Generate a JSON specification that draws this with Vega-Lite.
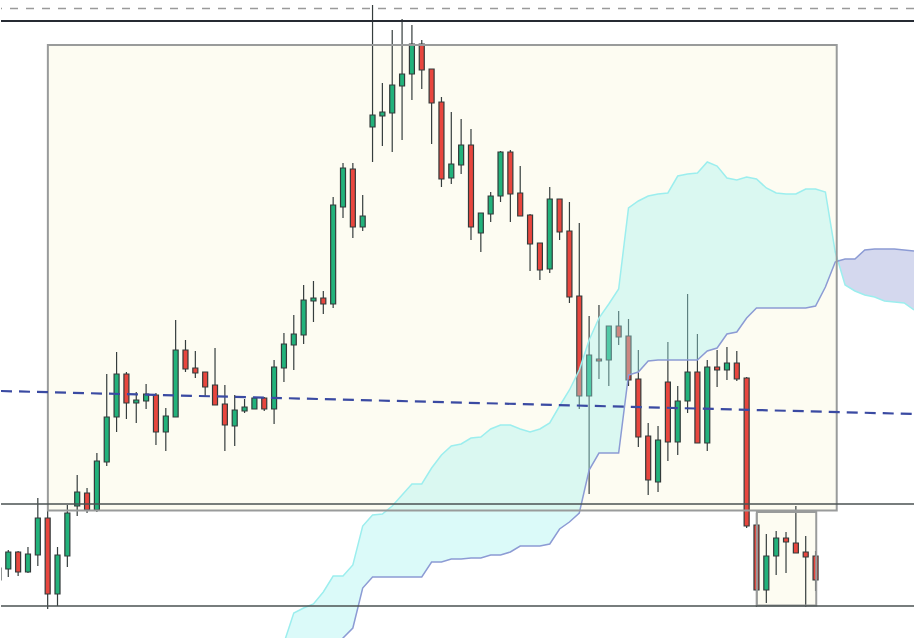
{
  "$schema": "https://vega.github.io/schema/vega-lite/v6.json",
  "width": 915,
  "height": 638,
  "padding": 0,
  "autosize": {"type": "fit", "contains": "padding"},
  "background": "#ffffff",
  "config": {"view": {"stroke": null}, "scale": {"continuousPadding": 0}},
  "datasets": {
    "candles": [
      {"i": -1, "o": 1420, "h": 1434, "l": 1417, "c": 1432},
      {"i": 0, "o": 1431, "h": 1450, "l": 1423, "c": 1448},
      {"i": 1, "o": 1448, "h": 1449, "l": 1424, "c": 1428},
      {"i": 2, "o": 1428, "h": 1453, "l": 1427, "c": 1446},
      {"i": 3, "o": 1445, "h": 1502, "l": 1434, "c": 1482},
      {"i": 4, "o": 1482, "h": 1490, "l": 1391, "c": 1406},
      {"i": 5, "o": 1406, "h": 1453, "l": 1394, "c": 1445},
      {"i": 6, "o": 1444, "h": 1495, "l": 1433, "c": 1487},
      {"i": 7, "o": 1494, "h": 1525, "l": 1484, "c": 1508},
      {"i": 8, "o": 1507, "h": 1512, "l": 1487, "c": 1490},
      {"i": 9, "o": 1490, "h": 1547, "l": 1488, "c": 1539},
      {"i": 10, "o": 1538, "h": 1626, "l": 1534, "c": 1583},
      {"i": 11, "o": 1583, "h": 1648, "l": 1568, "c": 1626},
      {"i": 12, "o": 1626, "h": 1628, "l": 1581, "c": 1597},
      {"i": 13, "o": 1597, "h": 1608, "l": 1577, "c": 1600},
      {"i": 14, "o": 1599, "h": 1616, "l": 1591, "c": 1606},
      {"i": 15, "o": 1605, "h": 1607, "l": 1555, "c": 1568},
      {"i": 16, "o": 1568, "h": 1592, "l": 1549, "c": 1584},
      {"i": 17, "o": 1583, "h": 1680, "l": 1583, "c": 1650},
      {"i": 18, "o": 1650, "h": 1660, "l": 1628, "c": 1631},
      {"i": 19, "o": 1632, "h": 1649, "l": 1622, "c": 1627},
      {"i": 20, "o": 1628, "h": 1628, "l": 1604, "c": 1613},
      {"i": 21, "o": 1615, "h": 1652, "l": 1595, "c": 1595},
      {"i": 22, "o": 1596, "h": 1615, "l": 1549, "c": 1575},
      {"i": 23, "o": 1574, "h": 1605, "l": 1554, "c": 1590},
      {"i": 24, "o": 1589, "h": 1601, "l": 1587, "c": 1593},
      {"i": 25, "o": 1591, "h": 1603, "l": 1591, "c": 1602},
      {"i": 26, "o": 1602, "h": 1603, "l": 1589, "c": 1591},
      {"i": 27, "o": 1591, "h": 1640, "l": 1576, "c": 1633},
      {"i": 28, "o": 1632, "h": 1667, "l": 1618, "c": 1656},
      {"i": 29, "o": 1655, "h": 1685, "l": 1630, "c": 1666},
      {"i": 30, "o": 1665, "h": 1715, "l": 1656, "c": 1700},
      {"i": 31, "o": 1699, "h": 1719, "l": 1678, "c": 1702},
      {"i": 32, "o": 1702, "h": 1709, "l": 1686, "c": 1696},
      {"i": 33, "o": 1696, "h": 1803, "l": 1692, "c": 1795},
      {"i": 34, "o": 1793, "h": 1837, "l": 1782, "c": 1832},
      {"i": 35, "o": 1831, "h": 1837, "l": 1762, "c": 1773},
      {"i": 36, "o": 1773, "h": 1805, "l": 1769, "c": 1784},
      {"i": 37, "o": 1873, "h": 1995, "l": 1838, "c": 1885},
      {"i": 38, "o": 1884, "h": 1917, "l": 1854, "c": 1888},
      {"i": 39, "o": 1887, "h": 1970, "l": 1848, "c": 1915},
      {"i": 40, "o": 1914, "h": 1981, "l": 1860, "c": 1926},
      {"i": 41, "o": 1926, "h": 1975, "l": 1900, "c": 1956},
      {"i": 42, "o": 1956, "h": 1960, "l": 1911, "c": 1930},
      {"i": 43, "o": 1931, "h": 1931, "l": 1856, "c": 1897},
      {"i": 44, "o": 1898, "h": 1903, "l": 1813, "c": 1821},
      {"i": 45, "o": 1822, "h": 1888, "l": 1816, "c": 1836},
      {"i": 46, "o": 1835, "h": 1881, "l": 1826, "c": 1855},
      {"i": 47, "o": 1855, "h": 1871, "l": 1760, "c": 1773},
      {"i": 48, "o": 1767, "h": 1787, "l": 1748, "c": 1787},
      {"i": 49, "o": 1786, "h": 1808, "l": 1778, "c": 1804},
      {"i": 50, "o": 1804, "h": 1849, "l": 1798, "c": 1848},
      {"i": 51, "o": 1848, "h": 1850, "l": 1778, "c": 1806},
      {"i": 52, "o": 1807, "h": 1834, "l": 1784, "c": 1784},
      {"i": 53, "o": 1785, "h": 1786, "l": 1729, "c": 1756},
      {"i": 54, "o": 1757, "h": 1757, "l": 1720, "c": 1730},
      {"i": 55, "o": 1731, "h": 1813, "l": 1727, "c": 1801},
      {"i": 56, "o": 1801, "h": 1801, "l": 1760, "c": 1768},
      {"i": 57, "o": 1769, "h": 1798, "l": 1697, "c": 1703},
      {"i": 58, "o": 1704, "h": 1777, "l": 1591, "c": 1604},
      {"i": 59, "o": 1604, "h": 1684, "l": 1506, "c": 1645},
      {"i": 60, "o": 1641, "h": 1695, "l": 1621, "c": 1639},
      {"i": 61, "o": 1640, "h": 1674, "l": 1614, "c": 1674},
      {"i": 62, "o": 1674, "h": 1689, "l": 1655, "c": 1663},
      {"i": 63, "o": 1664, "h": 1681, "l": 1614, "c": 1620},
      {"i": 64, "o": 1621, "h": 1650, "l": 1553, "c": 1563},
      {"i": 65, "o": 1564, "h": 1577, "l": 1505, "c": 1520},
      {"i": 66, "o": 1518, "h": 1574, "l": 1508, "c": 1560},
      {"i": 67, "o": 1618, "h": 1658, "l": 1539, "c": 1558},
      {"i": 68, "o": 1558, "h": 1614, "l": 1545, "c": 1599},
      {"i": 69, "o": 1599, "h": 1706, "l": 1587, "c": 1628},
      {"i": 70, "o": 1628, "h": 1666, "l": 1557, "c": 1557},
      {"i": 71, "o": 1557, "h": 1640, "l": 1549, "c": 1633},
      {"i": 72, "o": 1633, "h": 1650, "l": 1613, "c": 1630},
      {"i": 73, "o": 1630, "h": 1653, "l": 1620, "c": 1637},
      {"i": 74, "o": 1637, "h": 1649, "l": 1619, "c": 1621},
      {"i": 75, "o": 1622, "h": 1623, "l": 1472, "c": 1474},
      {"i": 76, "o": 1475, "h": 1487, "l": 1393, "c": 1410},
      {"i": 77, "o": 1410, "h": 1466, "l": 1397, "c": 1444},
      {"i": 78, "o": 1444, "h": 1469, "l": 1425, "c": 1462},
      {"i": 79, "o": 1462, "h": 1468, "l": 1427, "c": 1458},
      {"i": 80, "o": 1457, "h": 1494, "l": 1447, "c": 1447},
      {"i": 81, "o": 1448, "h": 1464, "l": 1393, "c": 1443},
      {"i": 82, "o": 1444, "h": 1449, "l": 1409, "c": 1420}
    ],
    "cloud": [
      {"i": 27, "a": 1325, "b": 1280, "seg": "bull"},
      {"i": 28, "a": 1357, "b": 1290, "seg": "bull"},
      {"i": 29, "a": 1387, "b": 1300, "seg": "bull"},
      {"i": 30, "a": 1392, "b": 1310, "seg": "bull"},
      {"i": 31, "a": 1396, "b": 1325, "seg": "bull"},
      {"i": 32, "a": 1408, "b": 1337, "seg": "bull"},
      {"i": 33, "a": 1424, "b": 1350, "seg": "bull"},
      {"i": 34, "a": 1424, "b": 1362, "seg": "bull"},
      {"i": 35, "a": 1435, "b": 1372, "seg": "bull"},
      {"i": 36, "a": 1474, "b": 1412, "seg": "bull"},
      {"i": 37, "a": 1485, "b": 1423, "seg": "bull"},
      {"i": 38, "a": 1486, "b": 1423, "seg": "bull"},
      {"i": 39, "a": 1494, "b": 1423, "seg": "bull"},
      {"i": 40, "a": 1505, "b": 1423, "seg": "bull"},
      {"i": 41, "a": 1516, "b": 1423, "seg": "bull"},
      {"i": 42, "a": 1516, "b": 1423, "seg": "bull"},
      {"i": 43, "a": 1532, "b": 1438, "seg": "bull"},
      {"i": 44, "a": 1545, "b": 1438, "seg": "bull"},
      {"i": 45, "a": 1554, "b": 1441, "seg": "bull"},
      {"i": 46, "a": 1556, "b": 1441, "seg": "bull"},
      {"i": 47, "a": 1562, "b": 1442, "seg": "bull"},
      {"i": 48, "a": 1563, "b": 1442, "seg": "bull"},
      {"i": 49, "a": 1571, "b": 1445, "seg": "bull"},
      {"i": 50, "a": 1575, "b": 1445, "seg": "bull"},
      {"i": 51, "a": 1575, "b": 1448, "seg": "bull"},
      {"i": 52, "a": 1571, "b": 1454, "seg": "bull"},
      {"i": 53, "a": 1568, "b": 1454, "seg": "bull"},
      {"i": 54, "a": 1571, "b": 1454, "seg": "bull"},
      {"i": 55, "a": 1577, "b": 1456, "seg": "bull"},
      {"i": 56, "a": 1594, "b": 1471, "seg": "bull"},
      {"i": 57, "a": 1610, "b": 1478, "seg": "bull"},
      {"i": 58, "a": 1630, "b": 1487, "seg": "bull"},
      {"i": 59, "a": 1660, "b": 1530, "seg": "bull"},
      {"i": 60, "a": 1682, "b": 1547, "seg": "bull"},
      {"i": 61, "a": 1696, "b": 1547, "seg": "bull"},
      {"i": 62, "a": 1711, "b": 1547, "seg": "bull"},
      {"i": 63, "a": 1792, "b": 1625, "seg": "bull"},
      {"i": 64, "a": 1799, "b": 1628, "seg": "bull"},
      {"i": 65, "a": 1804, "b": 1639, "seg": "bull"},
      {"i": 66, "a": 1806, "b": 1640, "seg": "bull"},
      {"i": 67, "a": 1807, "b": 1640, "seg": "bull"},
      {"i": 68, "a": 1824, "b": 1640, "seg": "bull"},
      {"i": 69, "a": 1826, "b": 1640, "seg": "bull"},
      {"i": 70, "a": 1827, "b": 1640, "seg": "bull"},
      {"i": 71, "a": 1838, "b": 1649, "seg": "bull"},
      {"i": 72, "a": 1834, "b": 1652, "seg": "bull"},
      {"i": 73, "a": 1822, "b": 1666, "seg": "bull"},
      {"i": 74, "a": 1820, "b": 1668, "seg": "bull"},
      {"i": 75, "a": 1823, "b": 1682, "seg": "bull"},
      {"i": 76, "a": 1821, "b": 1692, "seg": "bull"},
      {"i": 77, "a": 1812, "b": 1692, "seg": "bull"},
      {"i": 78, "a": 1807, "b": 1692, "seg": "bull"},
      {"i": 79, "a": 1806, "b": 1692, "seg": "bull"},
      {"i": 80, "a": 1806, "b": 1692, "seg": "bull"},
      {"i": 81, "a": 1811, "b": 1692, "seg": "bull"},
      {"i": 82, "a": 1811, "b": 1694, "seg": "bull"},
      {"i": 83, "a": 1808, "b": 1713, "seg": "bull"},
      {"i": 84, "a": 1748, "b": 1738, "seg": "bull"},
      {"i": 84.28, "a": 1739, "b": 1739, "seg": "bull"},
      {"i": 84.28, "a": 1739, "b": 1739, "seg": "bear"},
      {"i": 85, "a": 1715, "b": 1741, "seg": "bear"},
      {"i": 86, "a": 1709, "b": 1741, "seg": "bear"},
      {"i": 87, "a": 1705, "b": 1750, "seg": "bear"},
      {"i": 88, "a": 1703, "b": 1751, "seg": "bear"},
      {"i": 89, "a": 1699, "b": 1751, "seg": "bear"},
      {"i": 90, "a": 1698, "b": 1751, "seg": "bear"},
      {"i": 91, "a": 1697, "b": 1750, "seg": "bear"},
      {"i": 92, "a": 1690, "b": 1749, "seg": "bear"}
    ],
    "boxes": [
      {"x1": 4.02, "x2": 84.15, "top": 1955, "bottom": 1489.5},
      {"x1": 76.04, "x2": 82.07, "top": 1488, "bottom": 1394.5}
    ],
    "levels": [
      {"p": 1991.5, "kind": "alert"},
      {"p": 1979, "kind": "high"},
      {"p": 1496, "kind": "mid"},
      {"p": 1394, "kind": "low"}
    ],
    "trend": [
      {"i": -0.74, "p": 1609},
      {"i": 92, "p": 1586}
    ]
  },
  "layer": [
    {
      "data": {"name": "boxes"},
      "mark": {"type": "rect", "fill": "#fdfcf2", "strokeWidth": 0, "clip": true},
      "encoding": {
        "x": {"field": "x1", "type": "quantitative", "axis": null, "scale": {"domain": [-0.74, 92.0], "nice": false, "zero": false, "padding": 0}},
        "x2": {"field": "x2"},
        "y": {"field": "top", "type": "quantitative", "axis": null, "scale": {"domain": [1362, 2000], "nice": false, "zero": false, "padding": 0}},
        "y2": {"field": "bottom"}
      }
    },
    {
      "data": {"name": "candles"},
      "mark": {"type": "rule", "color": "#353d3d", "strokeWidth": 1.2, "clip": true},
      "encoding": {
        "x": {"field": "i", "type": "quantitative", "axis": null, "scale": {"domain": [-0.74, 92.0], "nice": false, "zero": false, "padding": 0}},
        "y": {"field": "l", "type": "quantitative", "axis": null, "scale": {"domain": [1362, 2000], "nice": false, "zero": false, "padding": 0}},
        "y2": {"field": "h"}
      }
    },
    {
      "data": {"name": "candles"},
      "mark": {"type": "bar", "size": 5, "stroke": "#323a3a", "strokeWidth": 1.2, "clip": true},
      "encoding": {
        "x": {"field": "i", "type": "quantitative", "axis": null, "scale": {"domain": [-0.74, 92.0], "nice": false, "zero": false, "padding": 0}},
        "y": {"field": "o", "type": "quantitative", "axis": null, "scale": {"domain": [1362, 2000], "nice": false, "zero": false, "padding": 0}},
        "y2": {"field": "c"},
        "color": {"condition": {"test": "datum.c > datum.o", "value": "#22b27b"}, "value": "#e8463e"}
      }
    },
    {
      "data": {"name": "cloud"},
      "transform": [{"filter": "datum.seg == 'bull'"}],
      "mark": {"type": "area", "color": "#a0f2ee", "opacity": 0.38, "clip": true},
      "encoding": {
        "x": {"field": "i", "type": "quantitative", "axis": null, "scale": {"domain": [-0.74, 92.0], "nice": false, "zero": false, "padding": 0}},
        "y": {"field": "a", "type": "quantitative", "axis": null, "scale": {"domain": [1362, 2000], "nice": false, "zero": false, "padding": 0}},
        "y2": {"field": "b"}
      }
    },
    {
      "data": {"name": "cloud"},
      "transform": [{"filter": "datum.seg == 'bear'"}],
      "mark": {"type": "area", "color": "#8e98d2", "opacity": 0.38, "clip": true},
      "encoding": {
        "x": {"field": "i", "type": "quantitative", "axis": null, "scale": {"domain": [-0.74, 92.0], "nice": false, "zero": false, "padding": 0}},
        "y": {"field": "a", "type": "quantitative", "axis": null, "scale": {"domain": [1362, 2000], "nice": false, "zero": false, "padding": 0}},
        "y2": {"field": "b"}
      }
    },
    {
      "data": {"name": "cloud"},
      "mark": {"type": "line", "color": "#9ceeee", "strokeWidth": 1.5, "clip": true},
      "encoding": {
        "x": {"field": "i", "type": "quantitative", "axis": null, "scale": {"domain": [-0.74, 92.0], "nice": false, "zero": false, "padding": 0}},
        "y": {"field": "a", "type": "quantitative", "axis": null, "scale": {"domain": [1362, 2000], "nice": false, "zero": false, "padding": 0}}
      }
    },
    {
      "data": {"name": "cloud"},
      "mark": {"type": "line", "color": "#8c9bd4", "strokeWidth": 1.5, "clip": true},
      "encoding": {
        "x": {"field": "i", "type": "quantitative", "axis": null, "scale": {"domain": [-0.74, 92.0], "nice": false, "zero": false, "padding": 0}},
        "y": {"field": "b", "type": "quantitative", "axis": null, "scale": {"domain": [1362, 2000], "nice": false, "zero": false, "padding": 0}}
      }
    },
    {
      "data": {"name": "boxes"},
      "mark": {"type": "rect", "fill": null, "fillOpacity": 0, "stroke": "#999b9b", "strokeWidth": 2, "clip": true},
      "encoding": {
        "x": {"field": "x1", "type": "quantitative", "axis": null, "scale": {"domain": [-0.74, 92.0], "nice": false, "zero": false, "padding": 0}},
        "x2": {"field": "x2"},
        "y": {"field": "top", "type": "quantitative", "axis": null, "scale": {"domain": [1362, 2000], "nice": false, "zero": false, "padding": 0}},
        "y2": {"field": "bottom"}
      }
    },
    {
      "data": {"name": "levels"},
      "transform": [{"filter": "datum.kind == 'alert'"}],
      "mark": {"type": "rule", "color": "#9a9a9a", "strokeWidth": 1.5, "strokeDash": [8, 8]},
      "encoding": {
        "y": {"field": "p", "type": "quantitative", "axis": null, "scale": {"domain": [1362, 2000], "nice": false, "zero": false, "padding": 0}}
      }
    },
    {
      "data": {"name": "levels"},
      "transform": [{"filter": "datum.kind == 'high'"}],
      "mark": {"type": "rule", "color": "#262b33", "strokeWidth": 1.8},
      "encoding": {
        "y": {"field": "p", "type": "quantitative", "axis": null, "scale": {"domain": [1362, 2000], "nice": false, "zero": false, "padding": 0}}
      }
    },
    {
      "data": {"name": "levels"},
      "transform": [{"filter": "datum.kind == 'mid' || datum.kind == 'low'"}],
      "mark": {"type": "rule", "color": "#4a5252", "strokeWidth": 1.3},
      "encoding": {
        "y": {"field": "p", "type": "quantitative", "axis": null, "scale": {"domain": [1362, 2000], "nice": false, "zero": false, "padding": 0}}
      }
    },
    {
      "data": {"name": "trend"},
      "mark": {"type": "line", "color": "#3a4aa2", "strokeWidth": 2.2, "strokeDash": [11, 7], "clip": true},
      "encoding": {
        "x": {"field": "i", "type": "quantitative", "axis": null, "scale": {"domain": [-0.74, 92.0], "nice": false, "zero": false, "padding": 0}},
        "y": {"field": "p", "type": "quantitative", "axis": null, "scale": {"domain": [1362, 2000], "nice": false, "zero": false, "padding": 0}}
      }
    }
  ]
}
